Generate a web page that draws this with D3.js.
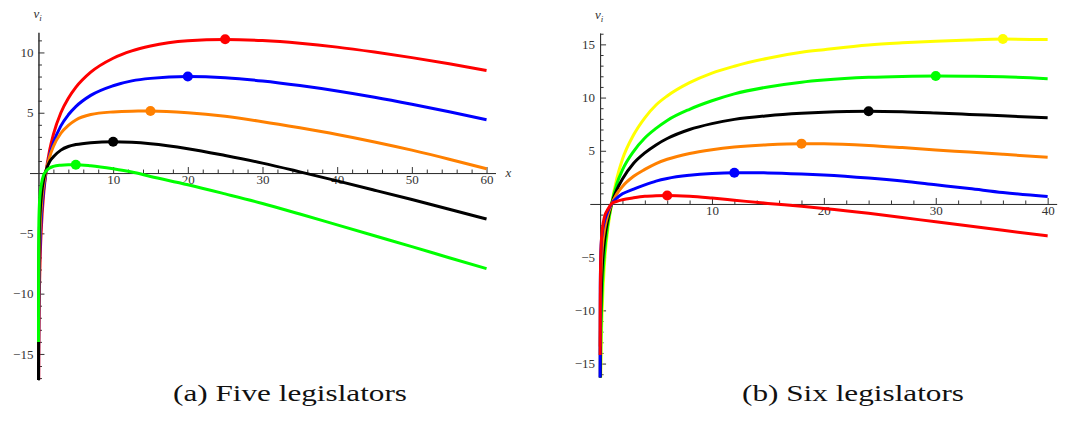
<!DOCTYPE html>
<html>
<head>
<meta charset="utf-8">
<script src="https://cdn.jsdelivr.net/npm/d3@7"></script>
<style>
  body { margin: 0; background: #fff; }
  .axis path, .axis line { stroke: #333; stroke-width: 1; }
</style>
</head>
<body>
<div id="graph"></div>
<script>
// values (x samples shared by each panel's curves)

// panel (a): five legislators
var xLeft      = [0.005, 0.02, 0.05, 0.1, 0.2, 0.4, 0.7, 1, 1.5, 2, 3, 4, 5, 7, 10, 12.5, 15, 20, 25, 30, 35, 40, 45, 50, 55, 60];
var redLeft    = [-26, -19.2, -14.5, -11.1, -7.7, -4.4, -1.7, 0, 1.9, 3.2, 5.0, 6.2, 7.1, 8.36, 9.52, 10.13, 10.53, 10.96, 11.07, 10.98, 10.76, 10.44, 10.03, 9.57, 9.06, 8.5];
var blueLeft   = [-20.7, -15.1, -11.5, -8.83, -6.13, -3.46, -1.34, 0, 1.49, 2.51, 3.91, 4.83, 5.51, 6.44, 7.24, 7.64, 7.85, 8.0, 7.9, 7.63, 7.25, 6.8, 6.28, 5.7, 5.08, 4.42];
var orangeLeft = [-19, -13, -9.5, -7.0, -4.8, -2.6, -0.9, 0.1, 1.35, 2.2, 3.3, 3.95, 4.4, 4.85, 5.07, 5.13, 5.14, 5.0, 4.7, 4.26, 3.75, 3.2, 2.58, 1.9, 1.15, 0.35];
var blackLeft  = [-18, -11, -7.5, -5.3, -3.5, -1.8, -0.5, 0.2, 0.95, 1.35, 1.9, 2.2, 2.36, 2.52, 2.6, 2.55, 2.43, 2.02, 1.45, 0.82, 0.1, -0.65, -1.42, -2.2, -3.0, -3.81];
var greenLeft  = [-14, -6.5, -4.3, -3.0, -1.9, -0.9, -0.15, 0.15, 0.42, 0.55, 0.65, 0.685, 0.69, 0.6, 0.35, 0.08, -0.28, -0.97, -1.73, -2.52, -3.4, -4.3, -5.2, -6.1, -7.02, -7.93];
var peakLeftX  = [25, 20, 15, 10, 5];
var peakLeftY  = [11.1, 8.0, 5.14, 2.6, 0.69];

// panel (b): six legislators
var xRight      = [0.005, 0.02, 0.05, 0.1, 0.2, 0.4, 0.7, 1, 1.5, 2, 3, 4, 5, 6, 8, 10, 12, 15, 18, 20, 24, 27, 30, 33, 36, 40];
var yellowRight = [-31, -22.9, -17.6, -13.6, -9.6, -5.5, -2.3, -0.2, 2.4, 4.2, 6.5, 8.1, 9.3, 10.15, 11.4, 12.3, 12.95, 13.7, 14.25, 14.5, 14.95, 15.15, 15.3, 15.42, 15.5, 15.45];
var greenRight  = [-25, -19, -14.6, -11.2, -7.9, -4.6, -1.9, -0.15, 1.9, 3.2, 4.95, 6.2, 7.1, 7.85, 8.9, 9.7, 10.35, 11.0, 11.45, 11.65, 11.9, 11.99, 12.03, 12.01, 11.95, 11.78];
var blackRight  = [-19.2, -14.2, -10.9, -8.4, -5.9, -3.4, -1.4, -0.1, 1.35, 2.35, 3.83, 4.8, 5.55, 6.15, 7.0, 7.55, 7.95, 8.3, 8.52, 8.62, 8.71, 8.66, 8.55, 8.42, 8.28, 8.11];
var orangeRight = [-13.4, -9.9, -7.6, -5.9, -4.1, -2.4, -1.0, -0.1, 0.95, 1.65, 2.6, 3.25, 3.8, 4.2, 4.75, 5.1, 5.35, 5.57, 5.67, 5.66, 5.5, 5.3, 5.08, 4.88, 4.67, 4.39];
var blueRight   = [-16.4, -8, -5.5, -3.8, -2.7, -1.6, -0.65, -0.05, 0.55, 0.95, 1.4, 1.8, 2.15, 2.4, 2.7, 2.87, 2.94, 2.92, 2.82, 2.72, 2.43, 2.15, 1.8, 1.45, 1.08, 0.69];
var redRight    = [-14.2, -8.5, -5.5, -3.8, -2.4, -1.2, -0.5, 0.0, 0.25, 0.4, 0.58, 0.72, 0.78, 0.8, 0.72, 0.55, 0.35, 0.05, -0.22, -0.42, -0.88, -1.27, -1.68, -2.08, -2.47, -3.0];
var peakRightX  = [36, 30, 24, 18, 12, 6];
var peakRightY  = [15.5, 12.03, 8.71, 5.67, 2.94, 0.8];

// tick labels
var xTicksLeft  = [10, 20, 30, 40, 50, 60];
var yTicksLeft  = [-15, -10, -5, 5, 10];
var xTicksRight = [10, 20, 30, 40];
var yTicksRight = [-15, -10, -5, 5, 10, 15];

var C = {red: '#ff0000', blue: '#0000ff', orange: '#ff8000', black: '#000000', green: '#00ff00', yellow: '#ffff00'};
var SERIF = '"Liberation Serif", "DejaVu Serif", "Times New Roman", serif';

var svg = d3.select('#graph')
  .append('svg')
  .attr('width', 1067)
  .attr('height', 444);

var fmt = function(d) { return d < 0 ? '\u2212' + Math.abs(d) : d; };

function styleLabels(sel) {
  sel.selectAll('text')
    .style('font-family', SERIF)
    .style('font-size', '13px')
    .style('fill', '#333');
}

function panel(opt) {
  var x = d3.scaleLinear().domain(opt.xDom).range(opt.xRange);
  var y = d3.scaleLinear().domain(opt.yDom).range(opt.yRange);
  var g = svg.append('g');

  // clip the curves to the axis extent
  g.append('clipPath').attr('id', opt.id)
    .append('rect')
    .attr('x', x(opt.xDom[0])).attr('y', y(opt.yDom[1]))
    .attr('width', x(opt.xDom[1]) - x(opt.xDom[0]))
    .attr('height', y(opt.yDom[0]) - y(opt.yDom[1]));

  // minor ticks
  g.append('g').attr('class', 'axis')
    .attr('transform', 'translate(0,' + y(0) + ')')
    .call(d3.axisBottom(x).tickValues(opt.xMinor).tickSize(-3.5).tickSizeOuter(0).tickFormat(''));
  g.append('g').attr('class', 'axis')
    .attr('transform', 'translate(' + x(0) + ',0)')
    .call(d3.axisLeft(y).tickValues(opt.yMinor).tickSize(-3.5).tickSizeOuter(0).tickFormat(''));

  // major ticks + labels
  g.append('g').attr('class', 'axis')
    .attr('transform', 'translate(0,' + y(0) + ')')
    .call(d3.axisBottom(x).tickValues(opt.xTicks).tickSize(-6).tickSizeOuter(0).tickPadding(2).tickFormat(fmt))
    .call(styleLabels);
  g.append('g').attr('class', 'axis')
    .attr('transform', 'translate(' + x(0) + ',0)')
    .call(d3.axisLeft(y).tickValues(opt.yTicks).tickSize(-6).tickSizeOuter(0).tickPadding(5).tickFormat(fmt))
    .call(styleLabels);

  var line = d3.line()
    .x(function(d) { return x(d[0]); })
    .y(function(d) { return y(d[1]); })
    .curve(d3.curveMonotoneX);

  var curves = g.append('g').attr('clip-path', 'url(#' + opt.id + ')');
  opt.series.forEach(function(s) {
    curves.append('path')
      .datum(opt.xs.map(function(v, i) { return [v, s.values[i]]; }))
      .attr('fill', 'none')
      .attr('stroke', s.color)
      .attr('stroke-width', 3)
      .attr('d', line);
  });

  g.selectAll('circle.peak')
    .data(opt.peaks)
    .enter().append('circle')
    .attr('class', 'peak')
    .attr('cx', function(d) { return x(d.x); })
    .attr('cy', function(d) { return y(d.y); })
    .attr('r', 5)
    .attr('fill', function(d) { return d.color; });

  // axis labels
  var vl = g.append('text')
    .attr('x', x(0) - 5).attr('y', y(opt.yDom[1]) - 14)
    .style('font-family', SERIF).style('font-style', 'italic')
    .style('font-size', '13px').style('fill', '#333');
  vl.append('tspan').text('v');
  vl.append('tspan').attr('dy', 3).style('font-size', '9px').text('i');
  if (opt.xLabel) {
    g.append('text')
      .attr('x', x(opt.xDom[1]) + 10).attr('y', y(0) + 4)
      .style('font-family', SERIF).style('font-style', 'italic')
      .style('font-size', '13px').style('fill', '#333')
      .text('x');
  }

  svg.append('text')
    .attr('x', opt.capX).attr('y', 401)
    .attr('text-anchor', 'middle')
    .attr('textLength', opt.capW)
    .attr('lengthAdjust', 'spacingAndGlyphs')
    .style('font-family', SERIF).style('font-size', '23px').style('fill', '#111')
    .text(opt.caption);
}

panel({
  id: 'clipA',
  xDom: [-1.2, 61.2], xRange: [29.5, 495.5],
  yDom: [-17.16, 11.67], yRange: [380, 32.3],
  xs: xLeft,
  series: [
    {color: C.red, values: redLeft},
    {color: C.blue, values: blueLeft},
    {color: C.orange, values: orangeLeft},
    {color: C.black, values: blackLeft},
    {color: C.green, values: greenLeft}
  ],
  peaks: peakLeftX.map(function(v, i) {
    return {x: v, y: peakLeftY[i], color: [C.red, C.blue, C.orange, C.black, C.green][i]};
  }),
  xTicks: xTicksLeft, yTicks: yTicksLeft,
  xMinor: d3.range(2, 61, 2).filter(function(v) { return v % 10; }),
  yMinor: d3.range(-17, 12, 1).filter(function(v) { return v % 5; }),
  xLabel: true,
  caption: '(a) Five legislators', capX: 290, capW: 234
});

panel({
  id: 'clipB',
  xDom: [-0.9, 40.8], xRange: [590, 1056.6],
  yDom: [-16.3, 16.05], yRange: [377.4, 33.2],
  xs: xRight,
  series: [
    {color: C.yellow, values: yellowRight},
    {color: C.green, values: greenRight},
    {color: C.black, values: blackRight},
    {color: C.orange, values: orangeRight},
    {color: C.blue, values: blueRight},
    {color: C.red, values: redRight}
  ],
  peaks: peakRightX.map(function(v, i) {
    return {x: v, y: peakRightY[i], color: [C.yellow, C.green, C.black, C.orange, C.blue, C.red][i]};
  }),
  xTicks: xTicksRight, yTicks: yTicksRight,
  xMinor: d3.range(2, 41, 2).filter(function(v) { return v % 10; }),
  yMinor: d3.range(-16, 17, 1).filter(function(v) { return v % 5; }),
  xLabel: false,
  caption: '(b) Six legislators', capX: 853, capW: 222
});
</script>
</body>
</html>
